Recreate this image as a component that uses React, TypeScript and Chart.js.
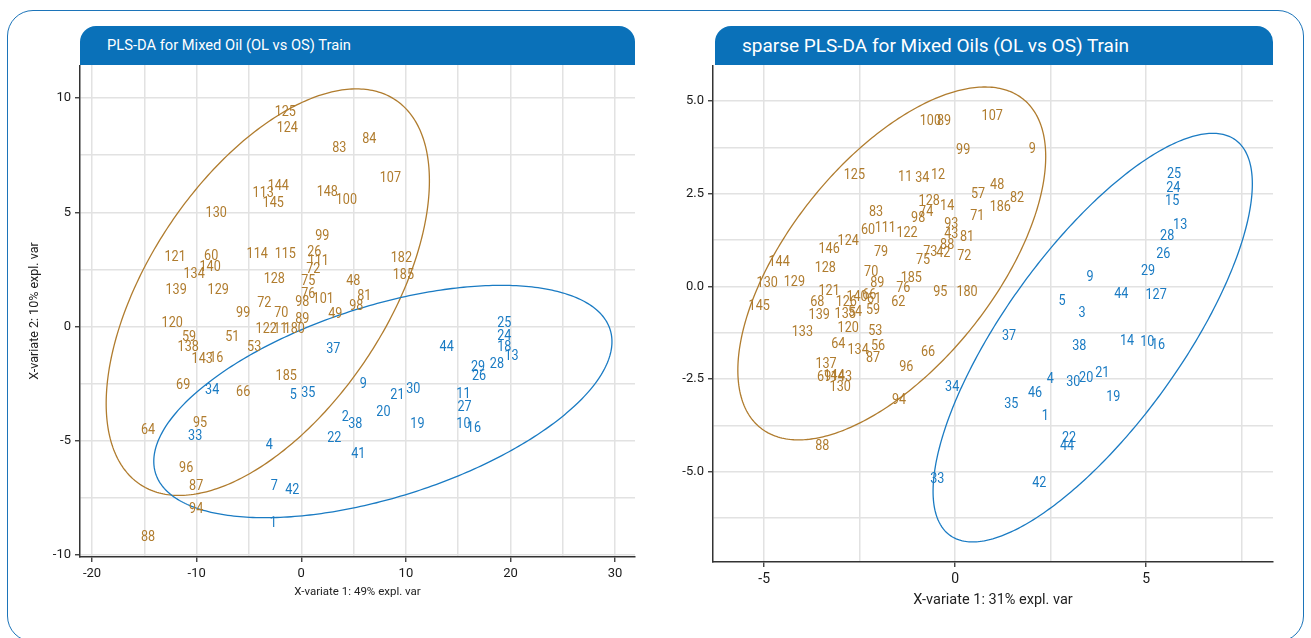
import React, { useEffect, useRef } from "react";
import { Chart, registerables } from "chart.js";

Chart.register(...registerables);

const BROWN = "#b07c2e";
const BLUE = "#1a7bc3";
const HEADER_BLUE = "#0a71b9";
const FONT = 'Roboto, "Liberation Sans", sans-serif';

// ---------- Left chart: PLS-DA ----------
const plsdaOLNames = ["125","124","83","84","107","144","113","145","148","100","130","99","121","60","140","134","114","115","26","111","72","128","75","48","182","185","139","129","76","98","101","81","98","72","99","70","89","49","120","59","138","51","53","122","11","180","143","16","69","66","185","95","64","96","87","94","88"];
const plsdaOLX = [-1.53,-1.34,3.64,6.51,8.52,-2.2,-3.64,-2.68,2.49,4.31,-8.13,2.01,-12.06,-8.61,-8.71,-10.24,-4.21,-1.53,1.24,1.63,1.15,-2.58,0.67,4.98,9.57,9.76,-11.96,-7.94,0.67,0.1,2.1,6.03,5.26,-3.54,-5.55,-1.91,0.1,3.25,-12.34,-10.72,-10.81,-6.6,-4.5,-3.35,-2.01,-0.67,-9.47,-8.13,-11.29,-5.55,-1.44,-9.67,-14.64,-11.0,-10.05,-10.05,-14.64];
const plsdaOLY = [9.39,8.68,7.81,8.2,6.49,6.14,5.83,5.39,5.88,5.53,4.96,3.95,3.03,3.07,2.59,2.28,3.16,3.16,3.25,2.85,2.5,2.06,1.97,1.97,2.98,2.24,1.58,1.58,1.4,1.05,1.18,1.32,0.88,1.01,0.57,0.57,0.31,0.53,0.13,-0.48,-0.92,-0.48,-0.92,-0.13,-0.13,-0.13,-1.45,-1.4,-2.59,-2.89,-2.19,-4.25,-4.56,-6.23,-7.02,-8.03,-9.25];

const plsdaOSNames = ["25","24","18","13","28","29","26","44","37","11","27","10","16","9","21","30","20","19","2","38","22","41","35","34","5","33","4","7","42","1"];
const plsdaOSX = [19.4,19.4,19.4,20.1,18.7,16.9,17.0,13.9,3.06,15.5,15.6,15.5,16.5,5.93,9.19,10.7,7.85,11.1,4.21,5.17,3.16,5.45,0.67,-8.52,-0.77,-10.14,-3.06,-2.58,-0.86,-2.68];
const plsdaOSY = [0.13,-0.44,-0.92,-1.32,-1.67,-1.8,-2.19,-0.92,-1.01,-2.98,-3.55,-4.3,-4.47,-2.54,-3.03,-2.76,-3.77,-4.3,-4.0,-4.3,-4.91,-5.61,-2.94,-2.81,-3.03,-4.82,-5.22,-7.02,-7.19,-8.6];

// ellipse params: [cx, cy, semi-axis a, semi-axis b, angle deg]
const plsdaOLEllipse = [-3.2, 1.5, 16.39, 7.02, 21.7];
const plsdaOSEllipse = [7.8, -3.29, 22.06, 4.33, 7.1];

const plsdaXTicks = [-20, -15, -10, -5, 0, 5, 10, 15, 20, 25, 30];
const plsdaXLabelled = [-20, -10, 0, 10, 20, 30];
const plsdaYTicks = [-10, -7.5, -5, -2.5, 0, 2.5, 5, 7.5, 10];
const plsdaYLabelled = [-10, -5, 0, 5, 10];

// ---------- Right chart: sparse PLS-DA ----------
const splsdaOLNames = ["100","89","107","99","9","125","11","34","12","48","57","186","82","128","14","74","98","83","71","93","43","81","60","111","122","124","146","79","73","42","88","75","72","144","128","70","130","129","89","185","76","95","180","121","145","68","62","139","126","140","66","61","135","54","59","120","53","133","64","134","56","87","66","96","137","69","144","143","130","94","88"];
const splsdaOLX = [-0.65,-0.29,0.97,0.21,2.02,-2.64,-1.31,-0.86,-0.45,1.1,0.6,1.18,1.62,-0.68,-0.21,-0.76,-0.97,-2.07,0.58,-0.1,-0.1,0.31,-2.28,-1.83,-1.26,-2.8,-3.3,-1.94,-0.65,-0.31,-0.21,-0.84,0.24,-4.61,-3.4,-2.2,-4.92,-4.21,-2.04,-1.15,-1.36,-0.39,0.31,-3.3,-5.13,-3.61,-1.49,-3.56,-2.85,-2.57,-2.25,-2.12,-2.88,-2.62,-2.15,-2.8,-2.09,-4.0,-3.06,-2.54,-2.02,-2.15,-0.71,-1.28,-3.38,-3.43,-3.17,-2.98,-3.01,-1.47,-3.48];
const splsdaOLY = [4.45,4.45,4.58,3.67,3.69,2.99,2.94,2.91,2.99,2.72,2.48,2.13,2.37,2.29,2.16,1.99,1.83,1.99,1.89,1.67,1.4,1.32,1.51,1.56,1.43,1.21,1.0,0.92,0.92,0.89,1.1,0.7,0.81,0.65,0.49,0.38,0.08,0.11,0.08,0.22,-0.05,-0.16,-0.16,-0.13,-0.54,-0.43,-0.43,-0.78,-0.43,-0.3,-0.24,-0.35,-0.75,-0.7,-0.65,-1.13,-1.21,-1.24,-1.56,-1.73,-1.62,-1.94,-1.78,-2.18,-2.1,-2.45,-2.43,-2.45,-2.72,-3.07,-4.31];

const splsdaOSNames = ["25","24","15","13","28","26","29","9","127","44","5","3","37","38","14","10","16","4","30","20","21","46","34","35","19","1","22","44","33","42"];
const splsdaOSX = [5.73,5.71,5.68,5.89,5.55,5.45,5.05,3.53,5.26,4.35,2.8,3.32,1.41,3.25,4.5,5.03,5.31,2.49,3.09,3.43,3.85,2.09,-0.08,1.47,4.14,2.36,2.98,2.93,-0.47,2.2];
const splsdaOSY = [3.02,2.64,2.29,1.64,1.35,0.86,0.4,0.24,-0.24,-0.22,-0.4,-0.73,-1.35,-1.62,-1.48,-1.51,-1.59,-2.51,-2.59,-2.48,-2.35,-2.88,-2.72,-3.18,-2.99,-3.5,-4.1,-4.31,-5.2,-5.31];

const splsdaOLEllipse = [-1.66, 0.62, 5.61, 2.72, 52.7];
const splsdaOSEllipse = [3.6, -1.38, 6.51, 2.33, 55.2];

const splsdaXTicks = [-5, -2.5, 0, 2.5, 5, 7.5];
const splsdaXLabelled = [-5, 0, 5];
const splsdaYTicks = [-6.25, -5, -3.75, -2.5, -1.25, 0, 1.25, 2.5, 3.75, 5];
const splsdaYLabelled = [-5, -2.5, 0, 2.5, 5];

const textPointsPlugin = {
  id: "textPoints",
  afterDatasetsDraw(chart: any) {
    const opts = chart.options.plugins.textPoints;
    const ctx = chart.ctx;
    const xs = chart.scales.x;
    const ys = chart.scales.y;
    ctx.save();
    (opts.ellipses || []).forEach((e: any) => {
      const [cx, cy, a, b, deg] = e.params;
      const th = (deg * Math.PI) / 180;
      ctx.beginPath();
      for (let i = 0; i <= 360; i++) {
        const t = (i * Math.PI) / 180;
        const dx = a * Math.cos(t) * Math.cos(th) - b * Math.sin(t) * Math.sin(th);
        const dy = a * Math.cos(t) * Math.sin(th) + b * Math.sin(t) * Math.cos(th);
        const px = xs.getPixelForValue(cx + dx);
        const py = ys.getPixelForValue(cy + dy);
        if (i === 0) ctx.moveTo(px, py);
        else ctx.lineTo(px, py);
      }
      ctx.closePath();
      ctx.strokeStyle = e.color;
      ctx.lineWidth = 1.3;
      ctx.stroke();
    });
    ctx.font = opts.font;
    ctx.textAlign = "center";
    ctx.textBaseline = "middle";
    chart.data.datasets.forEach((ds: any, i: number) => {
      const meta = chart.getDatasetMeta(i);
      ctx.fillStyle = ds.textColor;
      meta.data.forEach((el: any, j: number) => {
        ctx.save();
        ctx.translate(el.x, el.y);
        ctx.scale(opts.squeeze, 1);
        ctx.fillText(ds.names[j], 0, 0);
        ctx.restore();
      });
    });
    ctx.restore();
  },
};

function makePoints(xs: number[], ys: number[]) {
  return xs.map((x, i) => ({ x, y: ys[i] }));
}

function axisOpts(p: {
  min: number; max: number; ticks: number[]; labelled: number[]; fmt: (v: number) => string;
  size: number; fontSize: number; title?: string; titleSize?: number; titlePad?: any; isX: boolean; tickPad: number;
}) {
  return {
    type: "linear",
    position: p.isX ? "bottom" : "left",
    min: p.min,
    max: p.max,
    afterBuildTicks: (scale: any) => {
      scale.ticks = p.ticks.map((v) => ({ value: v }));
    },
    afterFit: (scale: any) => {
      if (p.isX) scale.height = p.size;
      else scale.width = p.size;
      scale.paddingTop = 0;
      scale.paddingBottom = 0;
      scale.paddingLeft = 0;
      scale.paddingRight = 0;
    },
    grid: {
      color: "#e2e2e2",
      lineWidth: 1.5,
      tickLength: 5,
      tickColor: (c: any) => (c.tick && p.labelled.includes(c.tick.value) ? "#333" : "rgba(0,0,0,0)"),
      tickWidth: 1.3,
    },
    border: { color: "#333", width: 1.5 },
    ticks: {
      includeBounds: false,
      autoSkip: false,
      maxRotation: 0,
      padding: p.tickPad,
      color: "#1a1a1a",
      font: { family: FONT, size: p.fontSize },
      callback: (v: number) => (p.labelled.includes(v) ? p.fmt(v) : ""),
    },
    title: p.title
      ? {
          display: true,
          text: p.title,
          color: "#222",
          font: { family: FONT, size: p.titleSize },
          padding: p.titlePad,
        }
      : { display: false },
  };
}

function ScatterChart(props: {
  width: number; height: number; padding: any;
  ol: { names: string[]; x: number[]; y: number[] };
  os: { names: string[]; x: number[]; y: number[] };
  olEllipse: number[]; osEllipse: number[];
  xAxis: any; yAxis: any; labelFont: string;
}) {
  const ref = useRef<HTMLCanvasElement>(null);
  useEffect(() => {
    if (!ref.current) return;
    const chart = new Chart(ref.current, {
      type: "scatter",
      data: {
        datasets: [
          {
            data: makePoints(props.ol.x, props.ol.y),
            names: props.ol.names,
            textColor: BROWN,
            pointRadius: 0,
            pointHoverRadius: 0,
          } as any,
          {
            data: makePoints(props.os.x, props.os.y),
            names: props.os.names,
            textColor: BLUE,
            pointRadius: 0,
            pointHoverRadius: 0,
          } as any,
        ],
      },
      options: {
        animation: false,
        responsive: false,
        devicePixelRatio: 1,
        layout: { padding: props.padding },
        scales: { x: props.xAxis, y: props.yAxis } as any,
        plugins: {
          legend: { display: false },
          tooltip: { enabled: false },
          textPoints: {
            font: props.labelFont,
            squeeze: 0.84,
            ellipses: [
              { params: props.olEllipse, color: BROWN },
              { params: props.osEllipse, color: BLUE },
            ],
          },
        } as any,
      },
      plugins: [textPointsPlugin as any],
    });
    return () => chart.destroy();
  }, []);
  return <canvas ref={ref} width={props.width} height={props.height} style={{ display: "block" }} />;
}

function Header(props: { left: number; width: number; text: string; size: number }) {
  return (
    <div
      style={{
        position: "absolute",
        left: props.left,
        top: 26,
        width: props.width,
        height: 39,
        background: HEADER_BLUE,
        borderRadius: "16px 16px 0 0",
        color: "#fff",
        fontFamily: FONT,
        fontSize: props.size,
        lineHeight: "39px",
        paddingLeft: 27,
        boxSizing: "border-box",
        whiteSpace: "nowrap",
      }}
    >
      {props.text}
    </div>
  );
}

export default function App() {
  return (
    <div style={{ position: "absolute", left: 0, top: 0, width: 1311, height: 638, overflow: "hidden", background: "#fff" }}>
      <div
        style={{
          position: "absolute",
          left: 7,
          top: 10,
          width: 1297,
          height: 632,
          border: "1.5px solid #1c74b9",
          borderRadius: 26,
          boxSizing: "border-box",
        }}
      />
      <Header left={80} width={555} text="PLS-DA for Mixed Oil (OL vs OS) Train" size={14.7} />
      <Header left={715} width={558} text="sparse PLS-DA for Mixed Oils (OL vs OS) Train" size={19} />
      <div style={{ position: "absolute", left: 20, top: 65 }}>
        <ScatterChart
          width={625}
          height={550}
          padding={{ left: 0, top: 0, right: 10, bottom: 0 }}
          ol={{ names: plsdaOLNames, x: plsdaOLX, y: plsdaOLY }}
          os={{ names: plsdaOSNames, x: plsdaOSX, y: plsdaOSY }}
          olEllipse={plsdaOLEllipse}
          osEllipse={plsdaOSEllipse}
          labelFont={`15px ${FONT}`}
          xAxis={axisOpts({
            min: -21.15, max: 31.9, ticks: plsdaXTicks, labelled: plsdaXLabelled, fmt: (v) => String(v),
            size: 58, fontSize: 13, title: "X-variate 1: 49% expl. var", titleSize: 11.5,
            titlePad: { top: 0, bottom: 16 }, isX: true, tickPad: 4,
          })}
          yAxis={axisOpts({
            min: -10.1, max: 11.45, ticks: plsdaYTicks, labelled: plsdaYLabelled, fmt: (v) => String(v),
            size: 60, fontSize: 13, title: "X-variate 2: 10% expl. var", titleSize: 12.5,
            titlePad: { top: 7, bottom: 0 }, isX: false, tickPad: 4,
          })}
        />
      </div>
      <div style={{ position: "absolute", left: 660, top: 65 }}>
        <ScatterChart
          width={623}
          height={555}
          padding={{ left: 0, top: 0, right: 10, bottom: 0 }}
          ol={{ names: splsdaOLNames, x: splsdaOLX, y: splsdaOLY }}
          os={{ names: splsdaOSNames, x: splsdaOSX, y: splsdaOSY }}
          olEllipse={splsdaOLEllipse}
          osEllipse={splsdaOSEllipse}
          labelFont={`15px ${FONT}`}
          xAxis={axisOpts({
            min: -6.34, max: 8.32, ticks: splsdaXTicks, labelled: splsdaXLabelled, fmt: (v) => String(v),
            size: 58, fontSize: 14, title: "X-variate 1: 31% expl. var", titleSize: 14.5,
            titlePad: { top: 0, bottom: 11 }, isX: true, tickPad: 4,
          })}
          yAxis={axisOpts({
            min: -7.43, max: 5.97, ticks: splsdaYTicks, labelled: splsdaYLabelled, fmt: (v) => v.toFixed(1),
            size: 53, fontSize: 13, isX: false, tickPad: 4,
          })}
        />
      </div>
    </div>
  );
}
